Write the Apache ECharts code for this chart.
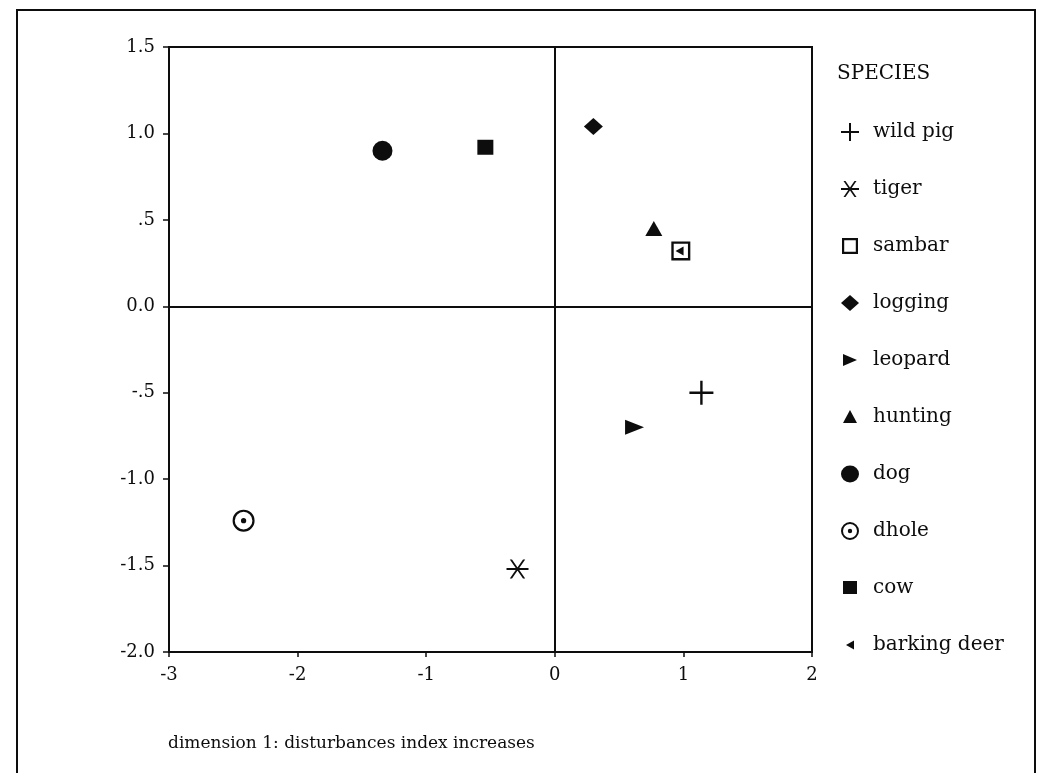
<!DOCTYPE html>
<html>
<head>
<meta charset="utf-8">
<script src="https://cdn.jsdelivr.net/npm/echarts@6/dist/echarts.min.js"></script>
<style>
  html, body { margin: 0; padding: 0; background: #ffffff; }
  #chart { width: 1037px; height: 773px; }
</style>
</head>
<body>
<div id="chart"></div>
<script>
// Correspondence analysis scores: dimension 1 (disturbance index) vs dimension 2
const species = ['wild pig', 'tiger', 'sambar', 'logging', 'leopard', 'hunting', 'dog', 'dhole', 'cow', 'barking deer'];
const dim1 = [1.14, -0.29, 0.98, 0.30, 0.62, 0.77, -1.34, -2.42, -0.54, 0.97];
const dim2 = [-0.50, -1.52, 0.32, 1.04, -0.70, 0.45, 0.90, -1.24, 0.92, 0.32];

const xTickLabels = ['-3', '-2', '-1', '0', '1', '2'];
const yTickLabels = ['-2.0', '-1.5', '-1.0', '-.5', '0.0', '.5', '1.0', '1.5'];
const xMin = -3, xMax = 2, xStep = 1;
const yMin = -2, yMax = 1.5, yStep = 0.5;

const INK = '#0d0d0d';
const FONT = 'DejaVu Serif';

// marker shapes on the plot, one per species
const markers = {
  'wild pig':     { symbol: 'path://M0,9H20V11H0Z M9,0H11V20H9Z', size: 24 },
  'tiger':        { symbol: 'path://M0,9H20V11H0Z M3,0L5,0L17,20L15,20Z M15,0L17,0L5,20L3,20Z', size: [22, 19] },
  'sambar':       { symbol: 'path://M0,0H20V20H0Z M2.5,2.5V17.5H17.5V2.5Z', size: 19 },
  'logging':      { symbol: 'diamond', size: [19, 17] },
  'leopard':      { symbol: 'path://M0,0L20,8L0,16Z', size: [19, 15] },
  'hunting':      { symbol: 'triangle', size: [17, 15] },
  'dog':          { symbol: 'circle', size: 20 },
  'dhole':        { symbol: 'path://M0,10a10,10 0 1,0 20,0a10,10 0 1,0 -20,0Z M2.0,10a8,8 0 1,1 16,0a8,8 0 1,1 -16,0Z M7.6,10a2.4,2.4 0 1,0 4.8,0a2.4,2.4 0 1,0 -4.8,0Z', size: 22 },
  'cow':          { symbol: 'rect', size: [16, 15] },
  'barking deer': { symbol: 'path://M0,5L10,0L10,10Z', size: [8, 9] }
};

// legend icons, drawn inside a 20x20 box so each keeps its own size
const legendIcons = {
  'wild pig':     'path://M0,0M20,20M1,9H19V11H1Z M9,1H11V19H9Z',
  'tiger':        'path://M0,0M20,20M1,9H19V11H1Z M3.5,2L5.5,2L16.5,18L14.5,18Z M14.5,2L16.5,2L5.5,18L3.5,18Z',
  'sambar':       'path://M0,0M20,20M2,2H18V18H2Z M4.2,4.2V15.8H15.8V4.2Z',
  'logging':      'path://M0,0M20,20M10,2L19,10L10,18L1,10Z',
  'leopard':      'path://M0,0M20,20M3,4L17,10L3,16Z',
  'hunting':      'path://M0,0M20,20M10,3L17,16L3,16Z',
  'dog':          'path://M0,0M20,20M1,10a9,8.5 0 1,0 18,0a9,8.5 0 1,0 -18,0Z',
  'dhole':        'path://M0,0M20,20M1,10a9,9 0 1,0 18,0a9,9 0 1,0 -18,0Z M3,10a7,7 0 1,1 14,0a7,7 0 1,1 -14,0Z M7.8,10a2.2,2.2 0 1,0 4.4,0a2.2,2.2 0 1,0 -4.4,0Z',
  'cow':          'path://M0,0M20,20M3,3H17V16H3Z',
  'barking deer': 'path://M0,0M20,20M6,10L14,5.5L14,14.5Z'
};

const series = species.map(function (name, i) {
  const m = markers[name];
  const s = {
    name: name,
    type: 'scatter',
    data: [[dim1[i], dim2[i]]],
    symbol: m.symbol,
    symbolSize: m.size,
    itemStyle: { color: INK, opacity: 1 },
    z: name === 'barking deer' ? 5 : 3,
    emphasis: { disabled: true }
  };
  if (i === 0) {
    // reference lines through the origin
    s.markLine = {
      silent: true,
      symbol: ['none', 'none'],
      label: { show: false },
      lineStyle: { color: INK, width: 2, type: 'solid' },
      data: [{ xAxis: 0 }, { yAxis: 0 }],
      animation: false
    };
  }
  return s;
});

const legendData = species.map(function (name) {
  return { name: name, icon: legendIcons[name] };
});

const chart = echarts.init(document.getElementById('chart'), null, { renderer: 'canvas' });
chart.setOption({
  animation: false,
  backgroundColor: '#ffffff',
  textStyle: { fontFamily: FONT, color: INK },
  title: {
    text: 'SPECIES',
    left: 832,
    top: 59,
    textStyle: { fontFamily: FONT, fontSize: 20, fontWeight: 'normal', color: INK }
  },
  legend: {
    data: legendData,
    orient: 'vertical',
    left: 835,
    top: 117,
    itemWidth: 36,
    itemHeight: 20,
    itemGap: 37,
    symbolKeepAspect: true,
    selectedMode: false,
    textStyle: { fontFamily: FONT, fontSize: 20, color: INK, lineHeight: 20 }
  },
  grid: {
    left: 169,
    right: 225,
    top: 47,
    bottom: 121,
    show: true,
    borderColor: INK,
    borderWidth: 2,
    backgroundColor: 'transparent'
  },
  xAxis: {
    type: 'value',
    min: xMin,
    max: xMax,
    interval: xStep,
    splitLine: { show: false },
    axisLine: { show: true, onZero: false, lineStyle: { color: INK, width: 2 } },
    axisTick: { show: true, length: 5, lineStyle: { color: INK, width: 1.5 } },
    axisLabel: {
      margin: 14,
      fontFamily: FONT,
      fontSize: 18,
      color: INK,
      formatter: function (v) { return xTickLabels[Math.round((v - xMin) / xStep)]; }
    }
  },
  yAxis: {
    type: 'value',
    min: yMin,
    max: yMax,
    interval: yStep,
    splitLine: { show: false },
    axisLine: { show: true, onZero: false, lineStyle: { color: INK, width: 2 } },
    axisTick: { show: true, length: 6, lineStyle: { color: INK, width: 1.5 } },
    axisLabel: {
      margin: 14,
      fontFamily: FONT,
      fontSize: 18,
      color: INK,
      formatter: function (v) { return yTickLabels[Math.round((v - yMin) / yStep)]; }
    }
  },
  graphic: [
    {
      type: 'rect',
      shape: { x: 17, y: 10, width: 1018, height: 800 },
      style: { fill: 'none', stroke: INK, lineWidth: 2 },
      silent: true
    },
    {
      type: 'text',
      left: 168,
      top: 735,
      style: {
        text: 'dimension 1: disturbances index increases',
        fontFamily: FONT,
        fontSize: 17,
        fill: INK
      },
      silent: true
    }
  ],
  series: series
});
</script>
</body>
</html>
